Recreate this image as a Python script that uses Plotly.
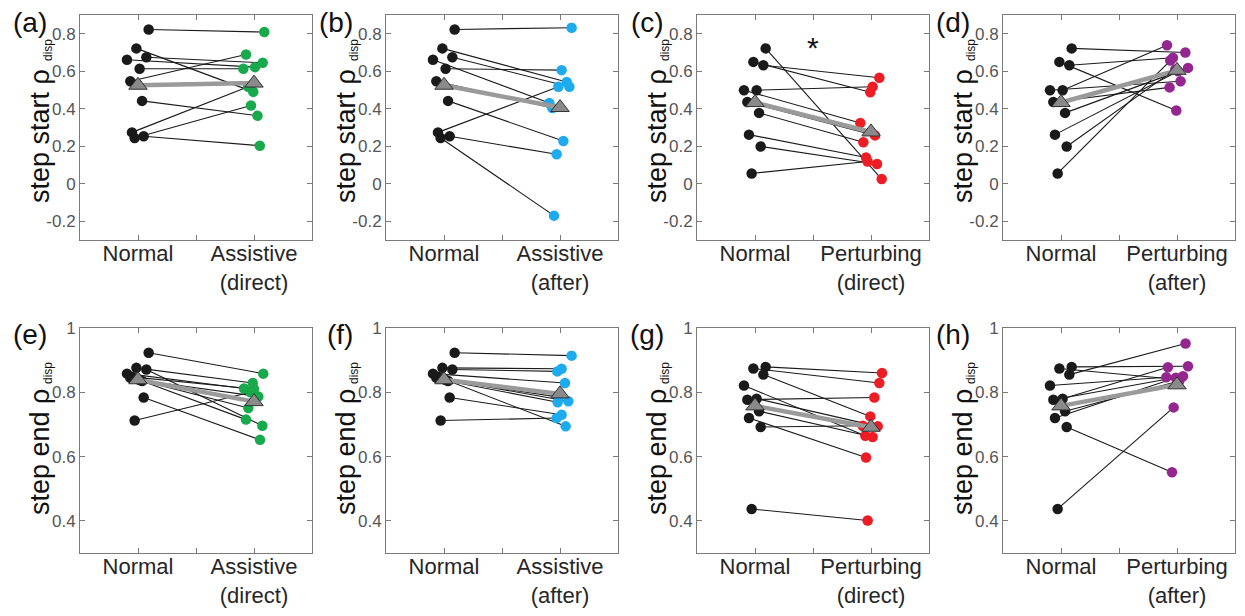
import numpy as np
import plotly.graph_objects as go

# ---------------- data (10 subjects, S1..S10) ----------------
normal_start_assist = [0.823, 0.722, 0.675, 0.661, 0.613, 0.547, 0.442, 0.274, 0.244, 0.253]
normal_start_perturb = [0.722, 0.650, 0.632, 0.499, 0.499, 0.436, 0.378, 0.262, 0.055, 0.199]
normal_end_assist = [0.923, 0.876, 0.871, 0.858, 0.838, 0.845, 0.835, 0.848, 0.712, 0.784]
normal_end_perturb = [0.879, 0.874, 0.855, 0.821, 0.780, 0.777, 0.741, 0.720, 0.437, 0.692]

start_assist_direct = [0.809, 0.490, 0.645, 0.622, 0.613, 0.689, 0.363, 0.517, 0.417, 0.203]
start_assist_after = [0.832, 0.543, 0.517, 0.431, 0.606, 0.404, 0.228, 0.517, -0.170, 0.157]
start_perturb_direct = [0.025, 0.488, 0.565, 0.324, 0.517, 0.258, 0.221, 0.140, 0.119, 0.105]
start_perturb_after = [0.700, 0.391, 0.672, 0.547, 0.739, 0.514, 0.618, 0.600, 0.657, 0.610]

end_assist_direct = [0.858, 0.829, 0.696, 0.812, 0.787, 0.751, 0.715, 0.810, 0.800, 0.652]
end_assist_after = [0.914, 0.873, 0.865, 0.829, 0.785, 0.772, 0.769, 0.694, 0.720, 0.730]
end_perturb_direct = [0.860, 0.829, 0.725, 0.665, 0.694, 0.784, 0.661, 0.597, 0.401, 0.696]
end_perturb_after = [0.881, 0.840, 0.952, 0.847, 0.878, 0.850, 0.835, 0.845, 0.753, 0.551]

# horizontal scatter offsets (category units)
jit_normal = [0.092, -0.014, 0.072, -0.095, 0.014, -0.066, 0.035, -0.052, -0.029, 0.049]
jit_start_assist_direct = [0.089, -0.006, 0.075, 0.009, -0.092, -0.069, 0.030, -0.050, -0.026, 0.050]
jit_start_assist_after = [0.100, 0.058, 0.081, -0.092, 0.014, -0.066, 0.029, -0.014, -0.052, -0.029]
jit_start_perturb_direct = [0.092, -0.006, 0.072, -0.092, 0.014, 0.035, -0.066, -0.043, -0.029, 0.052]
jit_start_perturb_after = [0.072, -0.006, -0.035, 0.031, -0.086, -0.064, 0.095, 0.010, -0.058, -0.015]
jit_end_assist_direct = [0.080, -0.011, 0.072, -0.086, 0.037, -0.049, -0.069, 0.000, -0.030, 0.052]
jit_end_assist_after = [0.100, 0.014, -0.023, 0.043, -0.009, 0.072, -0.020, 0.049, -0.029, 0.014]
jit_end_perturb_direct = [0.095, 0.072, -0.006, -0.049, 0.058, 0.029, 0.014, -0.043, -0.029, -0.072]
jit_end_perturb_after = [0.095, 0.005, 0.074, -0.092, -0.078, 0.052, 0.020, -0.010, -0.029, -0.043]

panel_letters = ["(a)", "(b)", "(c)", "(d)", "(e)", "(f)", "(g)", "(h)"]
condition_labels = ["Assistive<br>(direct)", "Assistive<br>(after)",
                    "Perturbing<br>(direct)", "Perturbing<br>(after)"]
row_titles = ["step start ρ", "step end ρ"]
subscript = "disp"
category_ticks = [1, 2]
middle_tick = [1.5]
start_ticks = [-0.2, 0, 0.2, 0.4, 0.6, 0.8]
start_tick_text = ["-0.2", "0", "0.2", "0.4", "0.6", "0.8"]
end_ticks = [0.4, 0.6, 0.8, 1.0]
end_tick_text = ["0.4", "0.6", "0.8", "1"]

GREEN, BLUE, RED, PURPLE = "#17a94b", "#1eaaee", "#ee1c25", "#93278f"

panels = [
    (normal_start_assist, start_assist_direct, jit_start_assist_direct, GREEN),
    (normal_start_assist, start_assist_after, jit_start_assist_after, BLUE),
    (normal_start_perturb, start_perturb_direct, jit_start_perturb_direct, RED),
    (normal_start_perturb, start_perturb_after, jit_start_perturb_after, PURPLE),
    (normal_end_assist, end_assist_direct, jit_end_assist_direct, GREEN),
    (normal_end_assist, end_assist_after, jit_end_assist_after, BLUE),
    (normal_end_perturb, end_perturb_direct, jit_end_perturb_direct, RED),
    (normal_end_perturb, end_perturb_after, jit_end_perturb_after, PURPLE),
]

# ---------------- layout geometry (page pixels) ----------------
W, H = 1245, 616
PAGE_OFFSET = 8          # default body margin of the html page
col_left = [80, 386, 697, 1003]
box_w = 232
row_top = [15, 328]
box_h = 225

FONT = "Liberation Sans, Arial, sans-serif"
AXIS_COLOR = "#7a7a7a"
TICK_FONT = dict(family=FONT, size=17, color="#555555")
CAT_FONT = dict(family=FONT, size=22, color="#262626")

fig = go.Figure()
annotations = []


def px_x(p):
    return (p - PAGE_OFFSET) / W


def px_y(p):
    return 1 - (p - PAGE_OFFSET) / H


for i, (normal, cond, jit_c, color) in enumerate(panels):
    row, col = divmod(i, 4)
    sfx = "" if i == 0 else str(i + 1)
    xa, ya = "x" + sfx, "y" + sfx

    xn = [1 + j for j in jit_normal]
    xc = [2 + j for j in jit_c]

    lx, ly = [], []
    for a, b, ya_, yb_ in zip(xn, xc, normal, cond):
        lx += [a, b, None]
        ly += [ya_, yb_, None]
    fig.add_trace(go.Scatter(x=lx, y=ly, mode="lines", xaxis=xa, yaxis=ya,
                             line=dict(color="#1a1a1a", width=1.1),
                             showlegend=False, hoverinfo="skip"))
    fig.add_trace(go.Scatter(x=xn, y=normal, mode="markers", xaxis=xa, yaxis=ya,
                             marker=dict(color="#1a1a1a", size=10.5, line=dict(width=0)),
                             showlegend=False))
    fig.add_trace(go.Scatter(x=xc, y=cond, mode="markers", xaxis=xa, yaxis=ya,
                             marker=dict(color=color, size=10.5, line=dict(width=0)),
                             showlegend=False))
    means = [float(np.mean(normal)), float(np.mean(cond))]
    fig.add_trace(go.Scatter(x=[1, 2], y=means, mode="lines", xaxis=xa, yaxis=ya,
                             line=dict(color="#9a9a9a", width=4.5),
                             showlegend=False))
    fig.add_trace(go.Scatter(x=[1, 2], y=means, mode="markers", xaxis=xa, yaxis=ya,
                             marker=dict(symbol="triangle-up", size=16, color="#8a8a8a",
                                         line=dict(color="#333333", width=1)),
                             showlegend=False))

    left, top = col_left[col], row_top[row]
    common = dict(showline=True, linecolor=AXIS_COLOR, linewidth=1, mirror="ticks",
                  ticks="inside", ticklen=5, tickcolor=AXIS_COLOR, showgrid=False,
                  zeroline=False, fixedrange=True, automargin=False)
    fig.layout["xaxis" + sfx] = dict(domain=[px_x(left), px_x(left + box_w)],
                                     range=[0.5, 2.5], anchor=ya,
                                     tickvals=category_ticks,
                                     ticktext=["Normal", condition_labels[col]],
                                     tickfont=CAT_FONT, ticklabelstandoff=-6,
                                     minor=dict(tickvals=middle_tick, ticks="inside",
                                                ticklen=5, tickcolor=AXIS_COLOR,
                                                showgrid=False),
                                     **common)
    if row == 0:
        yr, tv, tt = [-0.3, 0.9], start_ticks, start_tick_text
    else:
        yr, tv, tt = [0.3, 1.0], end_ticks, end_tick_text
    fig.layout["yaxis" + sfx] = dict(domain=[px_y(top + box_h), px_y(top)], range=yr,
                                     anchor=xa, tickvals=tv, ticktext=tt,
                                     tickfont=TICK_FONT, **common)

    # y-axis title (vertical) + small subscript
    title_center = 136 if row == 0 else 452
    sub_center = 50 if row == 0 else 373
    annotations.append(dict(text=row_titles[row], xref="paper", yref="paper",
                            x=px_x(left - 40), y=px_y(title_center),
                            xanchor="center", yanchor="middle", textangle=-90,
                            showarrow=False,
                            font=dict(family=FONT, size=27, color="#111111")))
    annotations.append(dict(text=subscript, xref="paper", yref="paper",
                            x=px_x(left - 32), y=px_y(sub_center),
                            xanchor="center", yanchor="middle", textangle=-90,
                            showarrow=False,
                            font=dict(family=FONT, size=12, color="#111111")))
    ly_px = 23 if row == 0 else 334
    annotations.append(dict(text=panel_letters[i], xref="paper", yref="paper",
                            x=px_x(left - 31), y=px_y(ly_px),
                            xanchor="right", yanchor="middle", showarrow=False,
                            font=dict(family=FONT, size=28, color="#111111")))

# significance marker in panel (c)
annotations.append(dict(text="*", xref="x3", yref="y3", x=1.5, y=0.728,
                        xanchor="center", yanchor="middle", showarrow=False,
                        font=dict(family=FONT, size=30, color="#111111")))

fig.update_layout(width=W, height=H, margin=dict(l=0, r=0, t=0, b=0),
                  paper_bgcolor="white", plot_bgcolor="white",
                  annotations=annotations, showlegend=False,
                  font=dict(family=FONT))

fig.write_html("out.html")
